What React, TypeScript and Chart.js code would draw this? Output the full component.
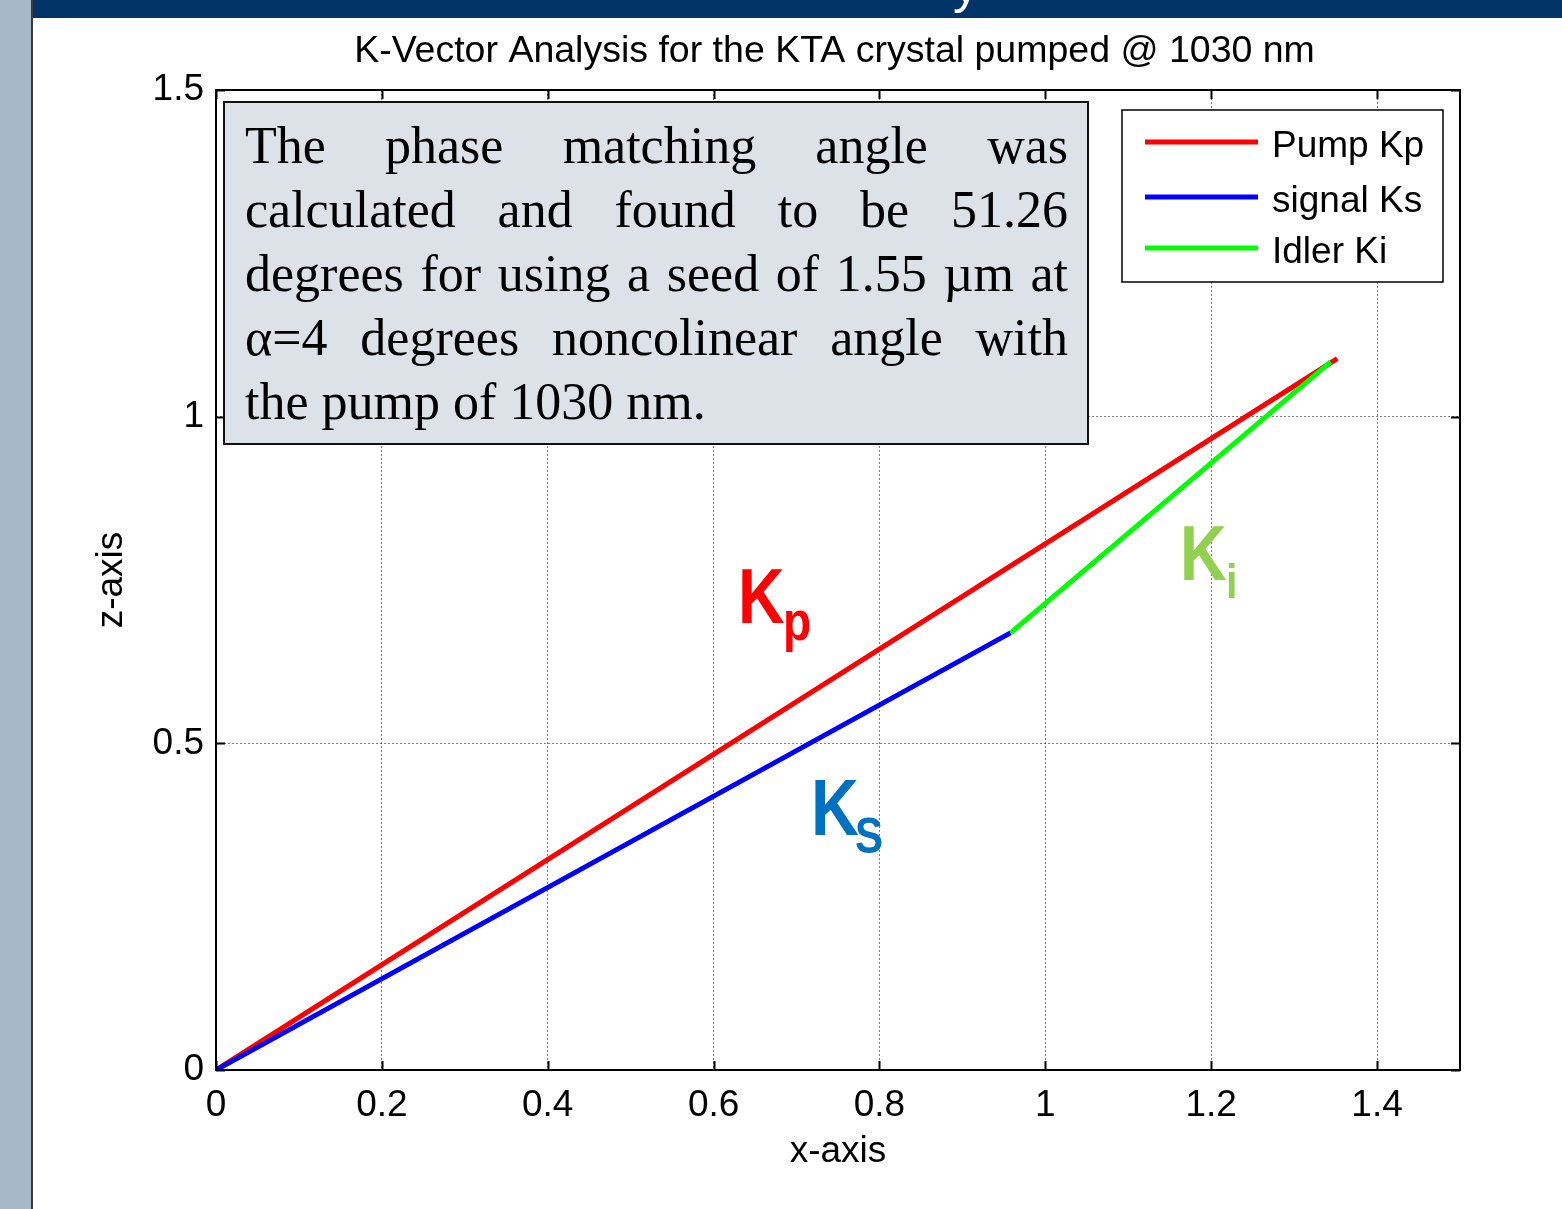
import React, { useEffect, useRef } from "react";
import { Chart, registerables } from "chart.js";

Chart.register(...registerables);

// ---- data ----
const chartTitle = "K-Vector Analysis for the KTA crystal pumped @ 1030 nm";
const xAxisTitle = "x-axis";
const zAxisTitle = "z-axis";
const seriesLabels = ["Pump Kp", "signal Ks", "Idler Ki"];
const seriesColors = ["#ff0000", "#0000ff", "#00ff00"];
const pumpX = [0, 1.352];
const pumpZ = [0, 1.089];
const signalX = [0, 0.958];
const signalZ = [0, 0.669];
const idlerX = [0.958, 1.344];
const idlerZ = [0.669, 1.084];
const xRange = [0, 1.5];
const xStep = 0.2;
const zRange = [0, 1.5];
const zStep = 0.5;
const noteLines = [
  "The phase matching angle was",
  "calculated and found to be 51.26",
  "degrees for using a seed of 1.55 \u00b5m at",
  "\u03b1=4 degrees noncolinear angle with",
  "the pump of 1030 nm.",
];
const vectorMain = ["K", "K", "K"];
const vectorSubs = ["p", "S", "i"];
const vectorColors = ["#ff0000", "#0070c0", "#92d050"];

const SANS = "'Liberation Sans', Arial, sans-serif";
const SERIF = "'Liberation Serif', 'Times New Roman', serif";

const toPoints = (xs: number[], zs: number[]) => xs.map((x, i) => ({ x, y: zs[i] }));

const overlayPlugin = {
  id: "overlay",
  afterDraw(chart: any) {
    const { ctx, chartArea } = chart;
    const { left, right, top, bottom } = chartArea;
    const xs = chart.scales.x;
    const ys = chart.scales.y;
    ctx.save();

    // frame
    ctx.strokeStyle = "#000";
    ctx.lineWidth = 2;
    ctx.setLineDash([]);
    ctx.strokeRect(left, top, right - left, bottom - top);

    // inward tick marks (MATLAB style)
    const tl = 9;
    ctx.lineWidth = 2;
    ctx.beginPath();
    xs.ticks.forEach((t: any) => {
      const px = Math.round(xs.getPixelForValue(t.value)) + 0.5;
      ctx.moveTo(px, bottom);
      ctx.lineTo(px, bottom - tl);
      ctx.moveTo(px, top);
      ctx.lineTo(px, top + tl);
    });
    ys.ticks.forEach((t: any) => {
      const py = Math.round(ys.getPixelForValue(t.value)) + 0.5;
      ctx.moveTo(left, py);
      ctx.lineTo(left + tl, py);
      ctx.moveTo(right, py);
      ctx.lineTo(right - tl, py);
    });
    ctx.stroke();

    // note box
    const bx = 224, by = 102, bw = 864, bh = 342;
    ctx.fillStyle = "#dde1e8";
    ctx.fillRect(bx, by, bw, bh);
    ctx.strokeStyle = "#111";
    ctx.lineWidth = 2;
    ctx.strokeRect(bx, by, bw, bh);
    ctx.fillStyle = "#000";
    ctx.font = `52px ${SERIF}`;
    ctx.textBaseline = "alphabetic";
    ctx.textAlign = "left";
    const tx0 = 245, tx1 = 1068;
    noteLines.forEach((line, i) => {
      const yb = 163 + i * 64;
      const words = line.split(" ");
      if (i === noteLines.length - 1 || words.length < 2) {
        ctx.fillText(line, tx0, yb);
        return;
      }
      const widths = words.map((w) => ctx.measureText(w).width);
      const total = widths.reduce((a, b) => a + b, 0);
      const gap = (tx1 - tx0 - total) / (words.length - 1);
      let cx = tx0;
      words.forEach((w, k) => {
        ctx.fillText(w, cx, yb);
        cx += widths[k] + gap;
      });
    });

    // legend
    const lx = 1122, ly = 110, lw = 321, lh = 172;
    ctx.fillStyle = "#fff";
    ctx.fillRect(lx, ly, lw, lh);
    ctx.strokeStyle = "#000";
    ctx.lineWidth = 1.5;
    ctx.strokeRect(lx, ly, lw, lh);
    const baselines = [157, 212, 263];
    chart.data.datasets.forEach((ds: any, i: number) => {
      const yb = baselines[i];
      ctx.strokeStyle = ds.borderColor;
      ctx.lineWidth = 5;
      ctx.beginPath();
      ctx.moveTo(1145, yb - 15);
      ctx.lineTo(1258, yb - 15);
      ctx.stroke();
      ctx.fillStyle = "#000";
      ctx.font = `37px ${SANS}`;
      ctx.fillText(ds.label, 1272, yb);
    });

    // vector labels
    const place = [
      { x: 738, yb: 623, size: 77, sx: 783, sb: 640, ssize: 55 },
      { x: 811, yb: 835, size: 79, sx: 855, sb: 853, ssize: 50 },
      { x: 1180, yb: 580, size: 77, sx: 1226, sb: 598, ssize: 49 },
    ];
    const squeeze = 0.84;
    place.forEach((p, i) => {
      ctx.fillStyle = vectorColors[i];
      ctx.save();
      ctx.translate(p.x, p.yb);
      ctx.scale(squeeze, 1);
      ctx.font = `bold ${p.size}px ${SANS}`;
      ctx.fillText(vectorMain[i], 0, 0);
      ctx.restore();
      ctx.save();
      ctx.translate(p.sx, p.sb);
      ctx.scale(squeeze, 1);
      ctx.font = `bold ${p.ssize}px ${SANS}`;
      ctx.fillText(vectorSubs[i], 0, 0);
      ctx.restore();
    });

    ctx.restore();
  },
};

export default function App() {
  const ref = useRef<HTMLCanvasElement | null>(null);
  useEffect(() => {
    if (!ref.current) return;
    const chart = new Chart(ref.current, {
      type: "line",
      data: {
        datasets: [
          {
            label: seriesLabels[0],
            data: toPoints(pumpX, pumpZ),
            borderColor: seriesColors[0],
            backgroundColor: seriesColors[0],
            borderWidth: 5,
            pointRadius: 0,
            fill: false,
            order: 2,
          },
          {
            label: seriesLabels[1],
            data: toPoints(signalX, signalZ),
            borderColor: seriesColors[1],
            backgroundColor: seriesColors[1],
            borderWidth: 5,
            pointRadius: 0,
            fill: false,
            order: 0,
          },
          {
            label: seriesLabels[2],
            data: toPoints(idlerX, idlerZ),
            borderColor: seriesColors[2],
            backgroundColor: seriesColors[2],
            borderWidth: 5,
            pointRadius: 0,
            fill: false,
            order: 1,
          },
        ],
      },
      options: {
        animation: false,
        responsive: false,
        devicePixelRatio: 1,
        layout: { padding: { left: 107, right: 0, top: 0, bottom: 35 } },
        plugins: {
          legend: { display: false },
          tooltip: { enabled: false },
          title: {
            display: true,
            text: chartTitle,
            color: "#000",
            font: { family: SANS, size: 37.5, weight: "normal", lineHeight: 1.2 },
            padding: { top: 29, bottom: 16 },
          },
        },
        scales: {
          x: {
            type: "linear",
            position: "bottom",
            min: xRange[0],
            max: xRange[1],
            ticks: {
              stepSize: xStep,
              includeBounds: false,
              color: "#000",
              font: { family: SANS, size: 37 },
              padding: 14,
              maxRotation: 0,
              autoSkip: false,
              callback: (v: any) => String(Math.round(Number(v) * 10) / 10),
            },
            grid: {
              color: "rgba(0,0,0,0.5)",
              lineWidth: 1,
              drawTicks: false,
            },
            border: { display: false, dash: [2, 2] },
            title: {
              display: true,
              text: xAxisTitle,
              color: "#000",
              font: { family: SANS, size: 37, lineHeight: 1.2 },
              padding: 0,
            },
            afterFit: (s: any) => {
              s.height = 104;
            },
          },
          y: {
            type: "linear",
            position: "left",
            min: zRange[0],
            max: zRange[1],
            ticks: {
              stepSize: zStep,
              color: "#000",
              font: { family: SANS, size: 37 },
              padding: 12,
              callback: (v: any) => String(Math.round(Number(v) * 10) / 10),
            },
            grid: {
              color: "rgba(0,0,0,0.5)",
              lineWidth: 1,
              drawTicks: false,
            },
            border: { display: false, dash: [2, 2] },
            title: {
              display: true,
              text: zAxisTitle,
              color: "#000",
              font: { family: SANS, size: 37, lineHeight: 0.27 },
              padding: 0,
            },
            afterFit: (s: any) => {
              s.width = 109;
            },
          },
          y2: {
            type: "linear",
            position: "right",
            min: zRange[0],
            max: zRange[1],
            ticks: { display: false, stepSize: zStep },
            grid: { drawOnChartArea: false, drawTicks: false },
            border: { display: false },
            afterFit: (s: any) => {
              s.width = 102;
            },
          },
        },
      },
      plugins: [overlayPlugin],
    } as any);
    return () => chart.destroy();
  }, []);

  return (
    <div
      style={{
        position: "fixed",
        left: 0,
        top: 0,
        width: 1562,
        height: 1209,
        background: "#fff",
        overflow: "hidden",
      }}
    >
      <div style={{ position: "absolute", left: 0, top: 0, width: 31, height: 1209, background: "#a8b8c8" }} />
      <div style={{ position: "absolute", left: 31, top: 0, width: 2, height: 1209, background: "#3a3a3a" }} />
      <div
        style={{
          position: "absolute",
          left: 33,
          top: 0,
          width: 1529,
          height: 18,
          background: "#003366",
          overflow: "hidden",
        }}
      >
        <span
          style={{
            position: "absolute",
            left: 920,
            top: -42,
            fontFamily: SANS,
            fontSize: 52,
            lineHeight: "52px",
            color: "#fff",
          }}
        >
          y
        </span>
      </div>
      <canvas
        ref={ref}
        width={1562}
        height={1209}
        style={{ position: "absolute", left: 0, top: 0, width: 1562, height: 1209 }}
      />
    </div>
  );
}
